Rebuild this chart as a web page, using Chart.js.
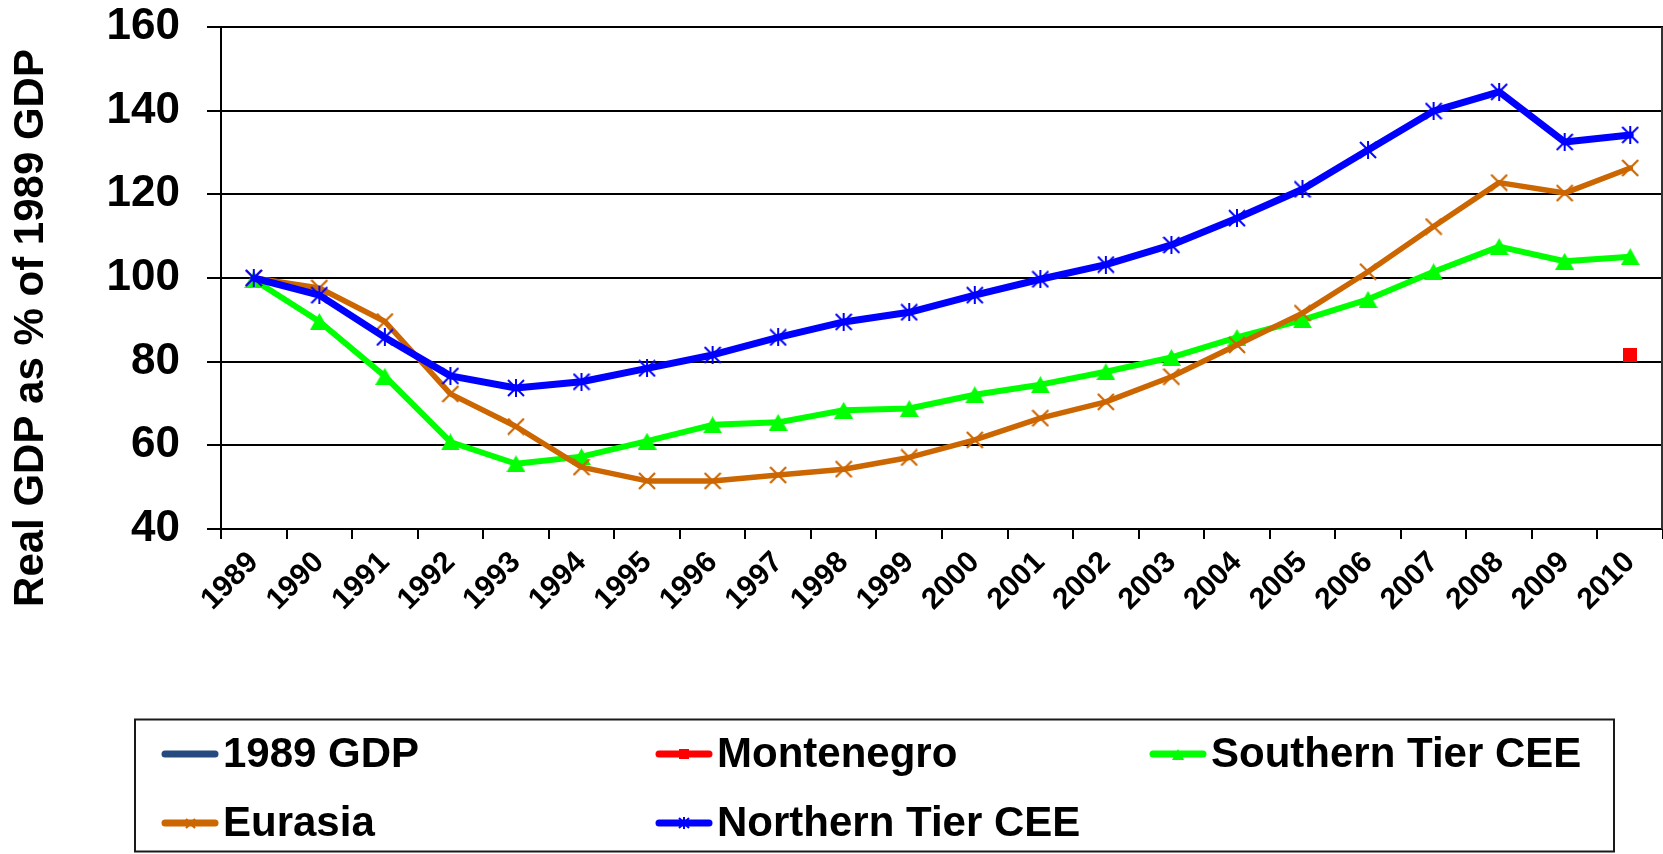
<!DOCTYPE html>
<html>
<head>
<meta charset="utf-8">
<script src="https://cdn.jsdelivr.net/npm/chart.js@4.4.1/dist/chart.umd.min.js"></script>
<style>
html,body{margin:0;padding:0;background:#fff;}
#wrap{width:1663px;height:854px;position:relative;}
</style>
</head>
<body>
<div id="wrap"><canvas id="c" width="1663" height="854"></canvas></div>
<script>
// ---- data ----
const years = ['1989','1990','1991','1992','1993','1994','1995','1996','1997','1998','1999',
               '2000','2001','2002','2003','2004','2005','2006','2007','2008','2009','2010'];
const gdp1989 = [100, null, null, null, null, null, null, null, null, null, null,
                 null, null, null, null, null, null, null, null, null, null, null];
const montenegro = [null, null, null, null, null, null, null, null, null, null, null,
                    null, null, null, null, null, null, null, null, null, null, 81.7];
const southernTier = [99.6, 89.6, 76.5, 60.8, 55.6, 57.3, 61.0, 64.9, 65.5, 68.4, 68.8,
                      72.1, 74.5, 77.6, 81.0, 85.8, 90.0, 94.9, 101.5, 107.5, 104.0, 105.1];
const eurasia = [100, 97.6, 89.6, 72.3, 64.5, 54.8, 51.5, 51.5, 52.9, 54.3, 57.1,
                 61.3, 66.5, 70.4, 76.4, 84.0, 91.6, 101.5, 112.3, 122.8, 120.3, 126.3];
const northernTier = [100, 95.9, 85.8, 76.6, 73.7, 75.2, 78.4, 81.6, 85.8, 89.5, 91.8,
                      95.9, 99.7, 103.2, 107.9, 114.3, 121.2, 130.6, 139.9, 144.5, 132.5, 134.2];
const yTicks = [40, 60, 80, 100, 120, 140, 160];
const yTitle = 'Real GDP as % of 1989 GDP';
const seriesNames = ['1989 GDP', 'Montenegro', 'Southern Tier CEE', 'Eurasia', 'Northern Tier CEE'];

const FONT = '"Liberation Sans", Arial, Helvetica, sans-serif';

// ---- marker images ----
function makeMarker(kind, color, s) {
  const c = document.createElement('canvas');
  const g = c.getContext('2d');
  if (kind === 'asterisk') {
    c.width = s; c.height = s;
    g.strokeStyle = color; g.lineWidth = 2;
    g.beginPath();
    g.moveTo(1, 1); g.lineTo(s - 1, s - 1);
    g.moveTo(s - 1, 1); g.lineTo(1, s - 1);
    g.moveTo(s / 2, 0); g.lineTo(s / 2, s);
    g.stroke();
  } else if (kind === 'x') {
    c.width = s; c.height = s;
    g.strokeStyle = color; g.lineWidth = 2.2;
    g.beginPath();
    g.moveTo(1, 1); g.lineTo(s - 1, s - 1);
    g.moveTo(s - 1, 1); g.lineTo(1, s - 1);
    g.stroke();
  } else if (kind === 'triangle') {
    const h = Math.round(s * 0.9);
    c.width = s; c.height = h;
    g.fillStyle = color;
    g.beginPath();
    g.moveTo(s / 2, 0); g.lineTo(s, h); g.lineTo(0, h); g.closePath();
    g.fill();
  } else if (kind === 'square') {
    c.width = s; c.height = s;
    g.fillStyle = color;
    g.fillRect(0, 0, s, s);
  }
  return c;
}

const COLORS = {
  gdp: '#244a7f', mont: '#ff0000', south: '#00ff00', eur: '#cc6600', north: '#0000ff'
};

const mAst = makeMarker('asterisk', COLORS.north, 18);
const mX = makeMarker('x', COLORS.eur, 18);
const mTri = makeMarker('triangle', COLORS.south, 19);
const mSq = makeMarker('square', COLORS.mont, 14);

const legendMarkers = [
  null,
  makeMarker('square', COLORS.mont, 10),
  makeMarker('triangle', COLORS.south, 12),
  makeMarker('x', COLORS.eur, 11),
  makeMarker('asterisk', COLORS.north, 12)
];
const legendColors = [COLORS.gdp, COLORS.mont, COLORS.south, COLORS.eur, COLORS.north];

// ---- custom drawing: y title, plot right border, legend ----
const extrasPlugin = {
  id: 'extras',
  afterDraw(chart) {
    const ctx = chart.ctx;
    const area = chart.chartArea;
    // right border of plot area
    ctx.save();
    ctx.strokeStyle = '#333';
    ctx.lineWidth = 2;
    ctx.beginPath();
    ctx.moveTo(area.right - 1, area.top);
    ctx.lineTo(area.right - 1, area.bottom);
    ctx.stroke();
    ctx.restore();

    // y axis title
    ctx.save();
    ctx.translate(31.5, 328);
    ctx.rotate(-Math.PI / 2);
    ctx.font = 'bold 42px ' + FONT;
    ctx.fillStyle = '#000';
    ctx.textAlign = 'center';
    ctx.textBaseline = 'middle';
    ctx.fillText(yTitle, 0, 0);
    ctx.restore();

    // legend box
    ctx.save();
    ctx.strokeStyle = '#1a1a1a';
    ctx.lineWidth = 2;
    ctx.strokeRect(135, 719.5, 1479, 132);
    const cols = [162, 656, 1150];
    const rows = [754, 823];
    const place = [[0, 0], [1, 0], [2, 0], [0, 1], [1, 1]];
    ctx.font = 'bold 42px ' + FONT;
    ctx.textAlign = 'left';
    ctx.textBaseline = 'middle';
    seriesNames.forEach((name, i) => {
      const x0 = cols[place[i][0]];
      const y = rows[place[i][1]];
      ctx.strokeStyle = legendColors[i];
      ctx.lineWidth = 7;
      ctx.lineCap = 'round';
      ctx.beginPath();
      ctx.moveTo(x0 + 3, y);
      ctx.lineTo(x0 + 53, y);
      ctx.stroke();
      const m = legendMarkers[i];
      if (m) ctx.drawImage(m, Math.round(x0 + 28 - m.width / 2), Math.round(y - m.height / 2));
      ctx.fillStyle = '#000';
      ctx.fillText(name, x0 + 61, y + 1);
    });
    ctx.restore();
  }
};

const lineBase = { borderJoinStyle: 'round', borderCapStyle: 'round', tension: 0, spanGaps: false };

new Chart(document.getElementById('c'), {
  type: 'line',
  data: {
    labels: years,
    datasets: [
      Object.assign({ label: seriesNames[0], data: gdp1989, borderColor: COLORS.gdp, backgroundColor: COLORS.gdp,
        borderWidth: 6, pointRadius: 0, order: 5 }, lineBase),
      Object.assign({ label: seriesNames[1], data: montenegro, borderColor: COLORS.mont, backgroundColor: COLORS.mont,
        borderWidth: 6, pointStyle: mSq, pointRadius: 8, order: 4 }, lineBase),
      Object.assign({ label: seriesNames[2], data: southernTier, borderColor: COLORS.south, backgroundColor: COLORS.south,
        borderWidth: 6, pointStyle: mTri, pointRadius: 8, order: 3 }, lineBase),
      Object.assign({ label: seriesNames[3], data: eurasia, borderColor: COLORS.eur, backgroundColor: COLORS.eur,
        borderWidth: 5.5, pointStyle: mX, pointRadius: 8, order: 2 }, lineBase),
      Object.assign({ label: seriesNames[4], data: northernTier, borderColor: COLORS.north, backgroundColor: COLORS.north,
        borderWidth: 7, pointStyle: mAst, pointRadius: 8, order: 1 }, lineBase)
    ]
  },
  options: {
    responsive: false,
    animation: false,
    events: [],
    layout: { padding: 0, autoPadding: false },
    plugins: { legend: { display: false }, tooltip: { enabled: false }, title: { display: false } },
    scales: {
      x: {
        type: 'category',
        offset: true,
        grid: { offset: true, drawOnChartArea: false, drawTicks: true, tickLength: 10, color: '#000', lineWidth: 2 },
        border: { color: '#000', width: 2 },
        ticks: {
          autoSkip: false, minRotation: 45, maxRotation: 45, padding: 6,
          color: '#000', font: { family: FONT, size: 30, weight: 'bold' }
        },
        afterFit(scale) { scale.height = 325; scale.paddingLeft = 0; scale.paddingRight = 0; }
      },
      y: {
        min: 40, max: 160,
        afterBuildTicks(scale) { scale.ticks = yTicks.map(v => ({ value: v })); },
        grid: { color: '#000', lineWidth: 2, tickLength: 14, drawTicks: true },
        border: { color: '#000', width: 2 },
        ticks: { padding: 27, color: '#000', font: { family: FONT, size: 44, weight: 'bold' } },
        afterFit(scale) { scale.width = 221; scale.paddingTop = 27; scale.paddingBottom = 0; }
      }
    }
  },
  plugins: [extrasPlugin]
});
</script>
</body>
</html>
